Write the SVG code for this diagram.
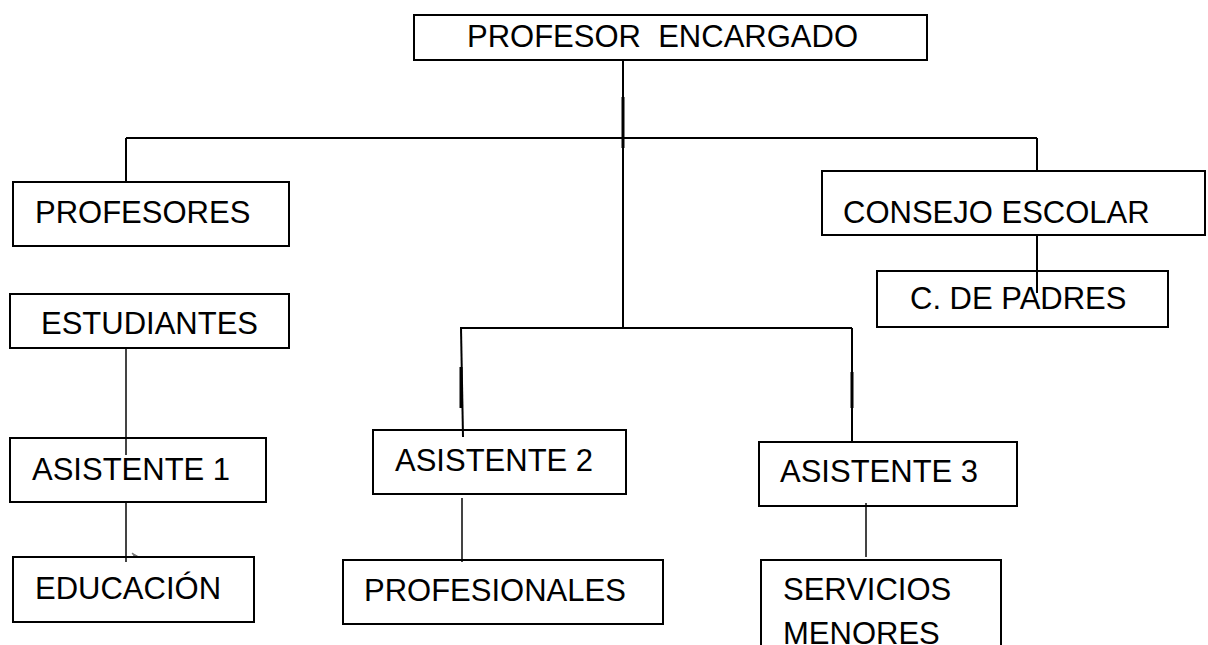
<svg xmlns="http://www.w3.org/2000/svg" width="1208" height="645" viewBox="0 0 1208 645">
<style>
.box{fill:none;stroke:#000;stroke-width:2}
.t{font-family:"Liberation Sans",Arial,sans-serif;font-size:31px;fill:#000;white-space:pre}
.c{fill:none;stroke:#000;stroke-width:2}
.g{fill:none;stroke:#444;stroke-width:2}
.k{fill:none;stroke:#000;stroke-width:3}
</style>
<rect width="1208" height="645" fill="#fff"/>
<g id="connectors">
<line class="c" x1="623" y1="60" x2="623" y2="328"/>
<line class="k" x1="623" y1="97" x2="623" y2="148"/>
<line class="c" x1="126" y1="138" x2="1037" y2="138"/>
<line class="c" x1="126" y1="138" x2="126" y2="182"/>
<line class="c" x1="1037" y1="138" x2="1037" y2="171"/>
<line class="c" x1="1037" y1="235" x2="1037" y2="293"/>
<line class="c" x1="460" y1="328" x2="852" y2="328"/>
<line class="c" x1="461" y1="328" x2="463" y2="437"/>
<line class="k" x1="461" y1="367" x2="461" y2="408"/>
<line class="c" x1="852" y1="328" x2="852" y2="442"/>
<line class="k" x1="852" y1="372" x2="852" y2="408"/>
<line class="g" x1="126" y1="348" x2="126" y2="455"/>
<line class="g" x1="126" y1="502" x2="126" y2="562"/>
<line class="g" x1="462" y1="498" x2="462" y2="562"/>
<line class="g" x1="866" y1="503" x2="866" y2="557"/>
<path d="M132,553 L139,557 L134,556 Z" fill="#777" stroke="#777" stroke-width="1"/>
</g>
<g id="profesor-encargado"><rect class="box" x="414" y="15" width="513" height="45"/><text class="t" x="467" y="47">PROFESOR  ENCARGADO</text></g>
<g id="profesores"><rect class="box" x="13" y="182" width="276" height="64"/><text class="t" x="35" y="223">PROFESORES</text></g>
<g id="estudiantes"><rect class="box" x="10" y="294" width="279" height="54"/><text class="t" x="41" y="334">ESTUDIANTES</text></g>
<g id="asistente1"><rect class="box" x="10" y="438" width="256" height="64"/><text class="t" x="32" y="480">ASISTENTE 1</text></g>
<g id="educacion"><rect class="box" x="13" y="557" width="241" height="65"/><text class="t" x="35" y="599">EDUCACIÓN</text></g>
<g id="consejo-escolar"><rect class="box" x="822" y="171" width="383" height="64"/><text class="t" x="843" y="223">CONSEJO ESCOLAR</text></g>
<g id="c-de-padres"><rect class="box" x="877" y="271" width="291" height="56"/><text class="t" x="910" y="309">C. DE PADRES</text></g>
<g id="asistente2"><rect class="box" x="373" y="430" width="253" height="64"/><text class="t" x="395" y="471">ASISTENTE 2</text></g>
<g id="profesionales"><rect class="box" x="343" y="560" width="320" height="64"/><text class="t" x="364" y="601">PROFESIONALES</text></g>
<g id="asistente3"><rect class="box" x="759" y="442" width="258" height="64"/><text class="t" x="780" y="482">ASISTENTE 3</text></g>
<g id="servicios-menores"><rect class="box" x="761" y="560" width="240" height="110"/><text class="t" x="783" y="600">SERVICIOS</text><text class="t" x="783" y="644">MENORES</text></g>
</svg>
